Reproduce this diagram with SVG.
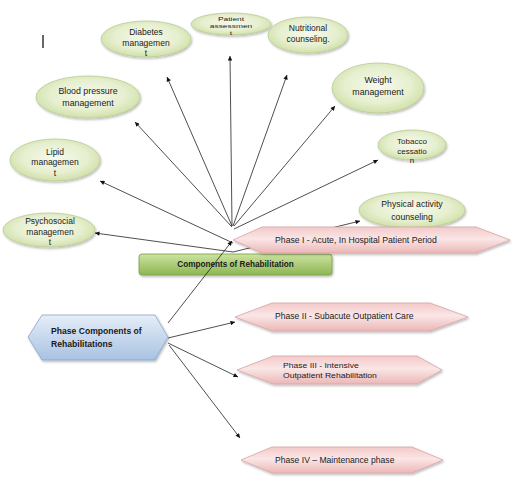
<svg xmlns="http://www.w3.org/2000/svg" width="516" height="489" viewBox="0 0 516 489">
<defs>
<radialGradient id="gEll" cx="50%" cy="45%" r="60%">
<stop offset="0" stop-color="#f6f9ec"/>
<stop offset="0.6" stop-color="#e6efcf"/>
<stop offset="1" stop-color="#cadd9f"/>
</radialGradient>
<linearGradient id="gPink" x1="0" y1="0" x2="0" y2="1">
<stop offset="0" stop-color="#f3c9c9"/>
<stop offset="0.45" stop-color="#fbe6e6"/>
<stop offset="1" stop-color="#ebb7b7"/>
</linearGradient>
<linearGradient id="gBlue" x1="0" y1="0" x2="0" y2="1">
<stop offset="0" stop-color="#e6eef8"/>
<stop offset="1" stop-color="#a8c2e2"/>
</linearGradient>
<linearGradient id="gGreen" x1="0" y1="0" x2="0" y2="1">
<stop offset="0" stop-color="#cbe39f"/>
<stop offset="1" stop-color="#8db653"/>
</linearGradient>
<filter id="sh" x="-20%" y="-30%" width="140%" height="160%">
<feDropShadow dx="1" dy="1.5" stdDeviation="1.2" flood-color="#000" flood-opacity="0.28"/>
</filter>
<marker id="ah" viewBox="0 0 10 10" refX="10" refY="5" markerWidth="5.5" markerHeight="4.5" markerUnits="userSpaceOnUse" orient="auto">
<path d="M0,0 L10,5 L0,10 z" fill="#111"/>
</marker>
</defs>
<style>
.ell{fill:url(#gEll);stroke:#b9cc92;stroke-width:0.8;filter:url(#sh)}
.pink{fill:url(#gPink);stroke:#d9a3a3;stroke-width:0.8;filter:url(#sh)}
.blue{fill:url(#gBlue);stroke:#86a4cc;stroke-width:0.8;filter:url(#sh)}
.green{fill:url(#gGreen);stroke:#7c9c4a;stroke-width:0.8;filter:url(#sh)}
.t{font-family:"Liberation Sans",Arial,sans-serif;fill:#1a1a1a}
.c{text-anchor:middle}
.b{font-weight:bold}
.s85{font-size:8.5px}
.s88{font-size:8.8px}
.s8{font-size:8px}
.s87{font-size:8.7px}
.s86{font-size:8.6px}
.ca{stroke:#222;stroke-width:0.8;fill:none;marker-end:url(#ah)}
</style>
<rect width="516" height="489" fill="#fff"/>
<line x1="43" y1="35" x2="43" y2="48" stroke="#000" stroke-width="1.2"/>

<g id="components-of-rehabilitation">
<rect class="green" x="139" y="254" width="193" height="21" rx="3"/>
<text class="t c b" x="235.5" y="266.5" style="font-size:8.2px">Components of Rehabilitation</text>
</g>

<g id="connectors">
<line class="ca" x1="232" y1="226" x2="167" y2="77"/>
<line class="ca" x1="232" y1="226" x2="230" y2="56"/>
<line class="ca" x1="233" y1="226" x2="287" y2="75"/>
<line class="ca" x1="232" y1="227" x2="135" y2="122"/>
<line class="ca" x1="234" y1="226" x2="335" y2="106"/>
<line class="ca" x1="233" y1="243" x2="100" y2="181"/>
<line class="ca" x1="234" y1="229" x2="378" y2="160"/>
<line class="ca" x1="233" y1="252" x2="95" y2="233"/>
<line class="ca" x1="233" y1="252" x2="360" y2="221"/>
<line class="ca" x1="168" y1="323" x2="232" y2="241"/>
<line class="ca" x1="168" y1="338" x2="235" y2="322"/>
<line class="ca" x1="168" y1="343" x2="238" y2="377"/>
<line class="ca" x1="169" y1="345" x2="240" y2="438"/>
</g>

<g id="diabetes-management">
<ellipse class="ell" cx="146" cy="39" rx="45" ry="18"/>
<text class="t c s85" x="146" y="35">Diabetes</text>
<text class="t c s85" x="146" y="46">managemen</text>
<text class="t c s85" x="146" y="56">t</text>
</g>
<g id="patient-assessment">
<ellipse class="ell" cx="231" cy="24" rx="40" ry="11"/>
<g transform="translate(231,0) scale(1.5,1)">
<text class="t c" x="0" y="21" style="font-size:5.6px">Patient</text>
<text class="t c" x="0" y="28" style="font-size:5.6px">assessmen</text>
<text class="t c" x="0" y="35" style="font-size:5.6px">t</text>
</g>
</g>
<g id="nutritional-counseling">
<ellipse class="ell" cx="308" cy="35" rx="40" ry="18"/>
<text class="t c s85" x="308" y="31">Nutritional</text>
<text class="t c s85" x="308" y="42">counseling.</text>
</g>
<g id="blood-pressure-management">
<ellipse class="ell" cx="88" cy="97" rx="52" ry="21"/>
<text class="t c s88" x="88" y="94">Blood pressure</text>
<text class="t c s88" x="88" y="106">management</text>
</g>
<g id="weight-management">
<ellipse class="ell" cx="378" cy="88" rx="46" ry="25"/>
<text class="t c s88" x="378" y="83">Weight</text>
<text class="t c s88" x="378" y="95">management</text>
</g>
<g id="lipid-management">
<ellipse class="ell" cx="55" cy="160" rx="45" ry="21"/>
<text class="t c s85" x="55" y="155">Lipid</text>
<text class="t c s85" x="55" y="165">managemen</text>
<text class="t c s85" x="55" y="176">t</text>
</g>
<g id="tobacco-cessation">
<ellipse class="ell" cx="412" cy="145" rx="34" ry="15"/>
<text class="t c s8" x="412" y="144">Tobacco</text>
<text class="t c s8" x="412" y="154">cessatio</text>
<text class="t c s8" x="412" y="163">n</text>
</g>
<g id="psychosocial-management">
<ellipse class="ell" cx="49" cy="230" rx="46" ry="17"/>
<text class="t c s85" x="50" y="224">Psychosocial</text>
<text class="t c s85" x="50" y="235">managemen</text>
<text class="t c s85" x="50" y="245">t</text>
</g>
<g id="physical-activity-counseling">
<ellipse class="ell" cx="412" cy="210" rx="53" ry="18"/>
<text class="t c s87" x="412" y="207">Physical activity</text>
<text class="t c s87" x="412" y="220">counseling</text>
</g>

<g id="phase-1">
<polygon class="pink" points="233,240 262,227 476,227 510,240 476,253 262,253"/>
<text class="t s87" x="275" y="242.5">Phase I - Acute, In Hospital Patient Period</text>
</g>
<g id="phase-2">
<polygon class="pink" points="235,317 272,303 430,303 468,317 430,331 272,331"/>
<text class="t s86" x="275" y="318.5">Phase II - Subacute Outpatient Care</text>
</g>
<g id="phase-3">
<polygon class="pink" points="237,370 273,356 417,356 442,370 417,384 273,384"/>
<g transform="translate(283,0) scale(1.13,1)">
<text class="t" x="0" y="368.5" style="font-size:7.6px">Phase III - Intensive</text>
<text class="t" x="0" y="378" style="font-size:7.6px">Outpatient Rehabilitation</text>
</g>
</g>
<g id="phase-4">
<polygon class="pink" points="241,460 272,447 412,447 443,460 412,473 272,473"/>
<text class="t s86" x="275" y="462.5">Phase IV – Maintenance phase</text>
</g>
<g id="phase-components">
<polygon class="blue" points="28,337 42,315 155,315 168,337 155,360 42,360"/>
<text class="t b s86" x="51" y="333.5">Phase Components of</text>
<text class="t b s86" x="51" y="346.5">Rehabilitations</text>
</g>
</svg>
